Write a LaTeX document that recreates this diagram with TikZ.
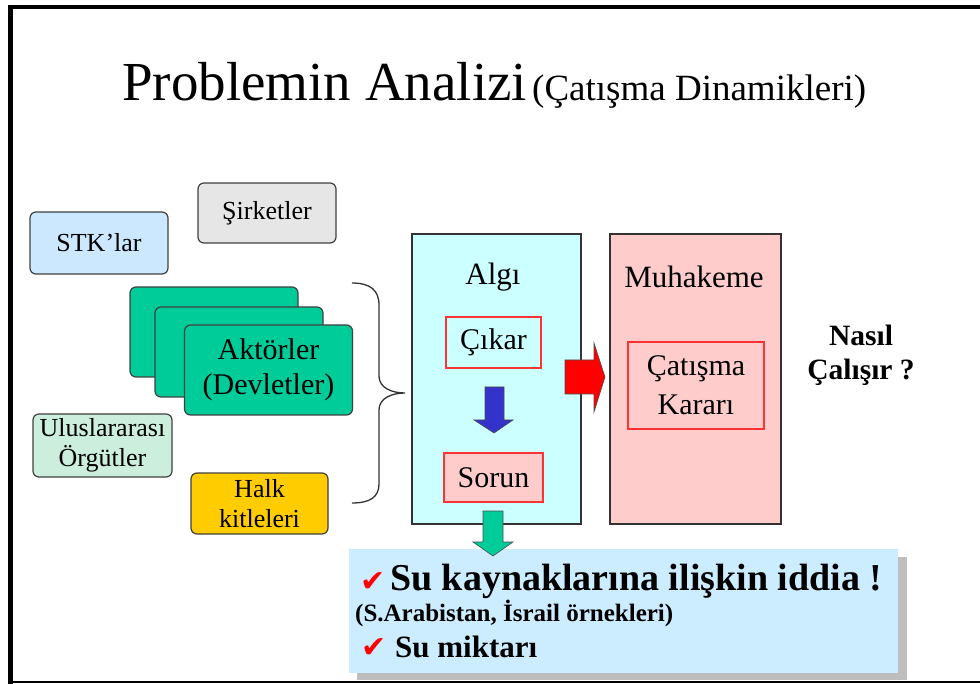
\documentclass[tikz,border=0pt]{standalone}
\usepackage{fontspec}
\setmainfont{Liberation Serif}
\newfontfamily\dejavu{DejaVu Sans}
\definecolor{stkblue}{RGB}{204,232,255}
\definecolor{sirgray}{RGB}{230,230,230}
\definecolor{actgreen}{RGB}{0,204,153}
\definecolor{mint}{RGB}{204,238,221}
\definecolor{halkyellow}{RGB}{255,204,0}
\definecolor{algicyan}{RGB}{204,255,255}
\definecolor{muhpink}{RGB}{255,204,204}
\definecolor{redline}{RGB}{255,51,51}
\definecolor{arrowblue}{RGB}{51,51,204}
\definecolor{bottomblue}{RGB}{204,236,255}
\definecolor{shadowgray}{RGB}{190,190,190}
\begin{document}
\begin{tikzpicture}[x=1pt,y=-1pt,
  rbox/.style={draw=black!75, line width=1.2pt, rounded corners=6pt, inner sep=0pt, align=center, font=\fontsize{26}{30}\selectfont},
  bigbox/.style={draw=black!80, line width=1.2pt, inner sep=0pt},
  redbox/.style={draw=redline, line width=1.4pt, inner sep=0pt, align=center, font=\fontsize{30}{39}\selectfont},
  boxtitle/.style={inner sep=0pt, font=\fontsize{31}{36}\selectfont},
  blockarrow/.style={draw=black!70, line width=0.6pt},
  checkmark/.style={inner sep=0pt, anchor=base west, text=red, font=\dejavu\fontsize{30}{34}\selectfont},
  btext/.style={inner sep=0pt, anchor=base west, font=\bfseries}
]
\useasboundingbox (0,0) rectangle (980,684);
% frame
\draw[line width=4.5pt] (8,7) -- (980,7);
\draw[line width=5pt] (10.5,5) -- (10.5,684);
\draw[line width=1.6pt] (10,682) -- (980,682);
% title
\node[inner sep=0pt, anchor=base west, font=\fontsize{55}{60}\selectfont] (title) at (122,101) {Problemin Analizi};
\node[inner sep=0pt, anchor=base west, font=\fontsize{37}{40}\selectfont] (subtitle) at (532,101) {(Çatışma Dinamikleri)};
% actor boxes
\node[rbox, fill=stkblue, minimum width=138, minimum height=62] (stk) at (99,243) {STK’lar};
\node[rbox, fill=sirgray, minimum width=138, minimum height=60] (sirket) at (267,213) {Şirketler};
\node[rbox, fill=actgreen, minimum width=168, minimum height=90] (akt1) at (214,332) {};
\node[rbox, fill=actgreen, minimum width=168, minimum height=90] (akt2) at (239,352) {};
\node[rbox, fill=actgreen, minimum width=168, minimum height=90, font=\fontsize{30}{35}\selectfont] (akt3) at (268.5,370) {Aktörler\\(Devletler)};
\node[rbox, fill=mint, minimum width=139, minimum height=63] (orgut) at (102.5,445.5) {Uluslararası\\Örgütler};
\node[rbox, fill=halkyellow, minimum width=137, minimum height=61] (halk) at (259.5,503.5) {Halk\\kitleleri};
% brace
\draw[line width=1.3pt, black!80] (352,283) .. controls (370,283) and (379,290) .. (379,305) -- (379,376) .. controls (379,388) and (392,393) .. (405,393) .. controls (392,393) and (379,398) .. (379,410) -- (379,484) .. controls (379,497) and (370,503) .. (352,503);
% Algi and Muhakeme
\node[bigbox, fill=algicyan, minimum width=169, minimum height=290] (algi) at (496.5,379) {};
\node[bigbox, fill=muhpink, minimum width=171, minimum height=290] (muh) at (695.5,379) {};
\node[boxtitle] (algit) at (493,277) {Algı};
\node[boxtitle] (muht) at (694,277) {Muhakeme};
\node[redbox, minimum width=95, minimum height=51] (cikar) at (493.5,342.5) {Çıkar};
\node[redbox, fill=muhpink, minimum width=99, minimum height=49] (sorun) at (493.5,477.5) {Sorun};
\node[redbox, minimum width=136, minimum height=87] (karar) at (696,385.5) {Çatışma\\ Kararı};
% blue arrow
\draw[blockarrow, fill=arrowblue] (485,387) -- (504,387) -- (504,420) -- (513,420) -- (494,433) -- (474,420) -- (485,420) -- cycle;
% red arrow
\draw[blockarrow, fill=red] (565,360) -- (594,360) -- (594,343) -- (605,377) -- (594,412) -- (594,394) -- (565,394) -- cycle;
% Nasil calisir
\node[inner sep=0pt, align=center, font=\bfseries\fontsize{29.5}{34}\selectfont] (nasil) at (861,355) {Nasıl\\Çalışır ?};
% bottom box
\fill[shadowgray] (357,557) rectangle (907,680);
\node[inner sep=0pt, fill=bottomblue, minimum width=549, minimum height=124] (bottombox) at (623.5,611) {};
% green arrow
\draw[blockarrow, fill=actgreen] (483,511) -- (503,511) -- (503,542) -- (513,542) -- (493,556) -- (473,542) -- (483,542) -- cycle;
% bottom texts
\node[checkmark] (chk1) at (360,591) {✔};
\node[btext, font=\bfseries\fontsize{38}{40}\selectfont] (line1) at (390,590) {Su kaynaklarına ilişkin iddia !};
\node[btext, font=\bfseries\fontsize{25}{28}\selectfont] (line2) at (355,621) {(S.Arabistan, İsrail örnekleri)};
\node[checkmark] (chk2) at (361,657) {✔};
\node[btext, font=\bfseries\fontsize{31}{34}\selectfont] (line3) at (395,657) {Su miktarı};
\end{tikzpicture}
\end{document}
